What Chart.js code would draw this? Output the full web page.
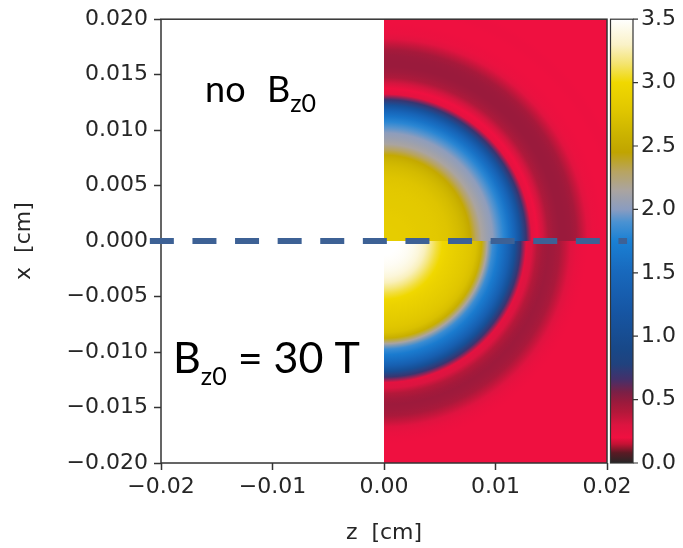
<!DOCTYPE html>
<html>
<head>
<meta charset="utf-8">
<title>Density map</title>
<script src="https://cdn.jsdelivr.net/npm/chart.js@4/dist/chart.umd.min.js"></script>
<style>
  html, body { margin: 0; padding: 0; background: #fff; }
  #densityMap { display: block; }
</style>
</head>
<body>
<canvas id="densityMap" width="683" height="548"></canvas>
<script>
// radial density profiles, one value per ring of width ringStep starting at r = 0
const ringStep = 0.0005;
const profileNoField = [
  2.86, 2.86, 2.86, 2.85, 2.85, 2.84, 2.83, 2.82,
  2.81, 2.80, 2.78, 2.76, 2.72, 2.67, 2.60, 2.50,
  2.30, 2.15, 2.08, 2.02, 1.92, 1.80, 1.62, 1.42,
  1.10, 0.70, 0.26, 0.20, 0.32, 0.42, 0.46, 0.48,
  0.48, 0.47, 0.44, 0.36, 0.27, 0.22, 0.21, 0.20,
  0.20, 0.20, 0.21, 0.21, 0.20, 0.20, 0.20, 0.20,
  0.20, 0.20, 0.20, 0.20, 0.20, 0.20, 0.20, 0.20, 0.20
];
const profileField = [
  3.50, 3.50, 3.50, 3.48, 3.46, 3.42, 3.36, 3.28,
  3.18, 3.08, 3.00, 2.94, 2.90, 2.86, 2.82, 2.78,
  2.72, 2.55, 2.15, 1.85, 1.70, 1.55, 1.35, 1.05,
  0.70, 0.26, 0.30, 0.40, 0.45, 0.47, 0.46, 0.43,
  0.36, 0.28, 0.23, 0.21, 0.20, 0.20, 0.20, 0.20,
  0.20, 0.20, 0.20, 0.20, 0.20, 0.20, 0.20, 0.20,
  0.20, 0.20, 0.20, 0.20, 0.20, 0.20, 0.20, 0.20, 0.20
];

const zTickValues = [-0.02, -0.01, 0, 0.01, 0.02];
const xTickValues = [-0.02, -0.015, -0.01, -0.005, 0, 0.005, 0.01, 0.015, 0.02];
const colourTickValues = [0, 0.5, 1, 1.5, 2, 2.5, 3, 3.5];

// dashed divider between the two cases, along x = 0
const dividerZ = [-0.021, 0.0218];
const dividerX = [0, 0];

// colour map stops: [value, colour]
const colourStops = [
  [0.00, '#262626'], [0.08, '#5a1a24'], [0.15, '#c41234'], [0.20, '#ef1040'],
  [0.30, '#dc1440'], [0.40, '#b4183a'], [0.48, '#9a1a3c'], [0.56, '#7a2046'],
  [0.66, '#44306a'], [0.78, '#20427e'], [0.90, '#184888'], [1.20, '#1656a4'],
  [1.50, '#1868bc'], [1.75, '#1a80d4'], [1.90, '#4a92d2'], [2.00, '#8a9cc0'],
  [2.15, '#aaa4a0'], [2.30, '#b8a460'], [2.45, '#c0a400'], [2.60, '#ccb400'],
  [2.80, '#e2c800'], [3.00, '#f0d800'], [3.15, '#f4e470'], [3.30, '#faf2c8'],
  [3.50, '#ffffff']
];

// in-plot labels: anchor in data units, then runs drawn one after another
const labelFont = 'Lato, "Open Sans", sans-serif';
const plotLabels = [
  { z: -0.01605, x: 0.01256, runs: [{ text: 'no', size: 36, shift: 0 }] },
  { z: -0.01049, x: 0.01256, runs: [{ text: 'B', size: 36, shift: 0 },
                                    { text: 'z0', size: 25, shift: 10 }] },
  { z: -0.01892, x: -0.01193, runs: [{ text: 'B', size: 43, shift: 0 },
                                     { text: 'z0', size: 25, shift: 12 },
                                     { text: ' = 30 T', size: 43, shift: 0 }] }
];

const tickFont = { family: 'DejaVu Sans', size: 22 };
const inkColour = '#262626';

function hexToRgb(h) {
  const n = parseInt(h.slice(1), 16);
  return [(n >> 16) & 255, (n >> 8) & 255, n & 255];
}

function colourAt(v) {
  if (v <= colourStops[0][0]) return colourStops[0][1];
  for (let i = 1; i < colourStops.length; i++) {
    const [v1, c1] = colourStops[i];
    if (v <= v1) {
      const [v0, c0] = colourStops[i - 1];
      const t = (v - v0) / (v1 - v0);
      const a = hexToRgb(c0), b = hexToRgb(c1);
      const m = a.map((ch, k) => Math.round(ch + (b[k] - ch) * t));
      return `rgb(${m[0]},${m[1]},${m[2]})`;
    }
  }
  return colourStops[colourStops.length - 1][1];
}

function fixedTicks(values) {
  return scale => { scale.ticks = values.map(v => ({ value: v })); };
}

function signed(v, digits) {
  if (Math.abs(v) < 1e-12) v = 0;
  return (v < 0 ? '\u2212' : '') + Math.abs(v).toFixed(digits);
}

const heatmapPlugin = {
  id: 'heatmap',
  beforeDatasetsDraw(chart) {
    const { ctx, chartArea: a, scales: { x, y, c } } = chart;
    const x0 = x.getPixelForValue(0);
    const yc = y.getPixelForValue(0);
    const ySplit = Math.round(yc);
    const xr = x.getPixelForValue(0.02);
    const halves = [
      { profile: profileNoField, top: y.getPixelForValue(0.02), bottom: ySplit },
      { profile: profileField, top: ySplit, bottom: y.getPixelForValue(-0.02) }
    ];
    halves.forEach(h => {
      const n = h.profile.length;
      const rMax = n * ringStep;
      const rx = x.getPixelForValue(rMax) - x0;
      const ry = yc - y.getPixelForValue(rMax);
      ctx.save();
      ctx.beginPath();
      ctx.rect(x0, h.top, xr - x0, h.bottom - h.top);
      ctx.clip();
      ctx.translate(x0, yc);
      ctx.scale(1, ry / rx);
      const g = ctx.createRadialGradient(0, 0, 0, 0, 0, rx);
      g.addColorStop(0, colourAt(h.profile[0]));
      h.profile.forEach((v, i) => g.addColorStop((i + 0.5) / n, colourAt(v)));
      g.addColorStop(1, colourAt(h.profile[n - 1]));
      ctx.fillStyle = g;
      ctx.fillRect(-rx, -rx, 2 * rx, 2 * rx);
      ctx.restore();
    });

    // axes frame
    ctx.save();
    ctx.strokeStyle = '#333';
    ctx.lineWidth = 1.5;
    ctx.strokeRect(a.left, a.top, a.width, a.height);

    // colour bar
    const cbLeft = a.right + 3.5, cbWidth = 22.5;
    const cbTop = c.getPixelForValue(3.5), cbBottom = c.getPixelForValue(0);
    const grad = ctx.createLinearGradient(0, cbBottom, 0, cbTop);
    colourStops.forEach(([v, col]) => grad.addColorStop(v / 3.5, col));
    ctx.fillStyle = grad;
    ctx.fillRect(cbLeft, cbTop, cbWidth, cbBottom - cbTop);
    ctx.lineWidth = 1.2;
    ctx.strokeRect(cbLeft, cbTop, cbWidth, cbBottom - cbTop);
    ctx.beginPath();
    c.ticks.forEach(t => {
      const py = c.getPixelForValue(t.value);
      ctx.moveTo(cbLeft + cbWidth, py);
      ctx.lineTo(cbLeft + cbWidth + 5, py);
    });
    ctx.stroke();
    ctx.restore();
  },
  afterDraw(chart) {
    const { ctx, scales: { x, y } } = chart;
    ctx.save();
    ctx.fillStyle = '#000';
    ctx.textBaseline = 'alphabetic';
    ctx.textAlign = 'left';
    plotLabels.forEach(label => {
      let px = x.getPixelForValue(label.z);
      const py = y.getPixelForValue(label.x);
      label.runs.forEach(run => {
        ctx.font = `${run.size}px ${labelFont}`;
        ctx.fillText(run.text, px, py + run.shift);
        px += ctx.measureText(run.text).width;
      });
    });
    ctx.restore();
  }
};

const axisGrid = {
  display: true,
  drawOnChartArea: false,
  drawTicks: true,
  tickLength: 7,
  tickWidth: 1.5,
  tickColor: '#333'
};

new Chart(document.getElementById('densityMap'), {
  type: 'scatter',
  data: {
    datasets: [{
      data: dividerZ.map((z, i) => ({ x: z, y: dividerX[i] })),
      showLine: true,
      borderColor: '#3d6195',
      borderWidth: 6,
      borderDash: [24, 18.6],
      borderCapStyle: 'butt',
      pointRadius: 0,
      clip: false
    }]
  },
  options: {
    responsive: false,
    animation: false,
    layout: { padding: { top: 18, left: 0, right: 0, bottom: 0 } },
    plugins: { legend: { display: false }, tooltip: { enabled: false } },
    scales: {
      x: {
        type: 'linear',
        position: 'bottom',
        min: -0.02,
        max: 0.02,
        afterBuildTicks: fixedTicks(zTickValues),
        afterFit: s => { s.height = 85; },
        grid: axisGrid,
        border: { display: false },
        ticks: { font: tickFont, color: inkColour, padding: 4, maxRotation: 0,
                 callback: v => signed(v, 2) },
        title: { display: true, text: 'z  [cm]', font: tickFont, color: inkColour,
                 padding: { top: 0, bottom: 2 } }
      },
      y: {
        type: 'linear',
        position: 'left',
        min: -0.02,
        max: 0.02,
        afterBuildTicks: fixedTicks(xTickValues),
        afterFit: s => { s.width = 161; },
        grid: axisGrid,
        border: { display: false },
        ticks: { font: tickFont, color: inkColour, padding: 6,
                 callback: v => signed(v, 3) },
        title: { display: true, text: 'x  [cm]', font: tickFont, color: inkColour,
                 padding: { top: 11, bottom: 0 } }
      },
      c: {
        type: 'linear',
        position: 'right',
        min: 0,
        max: 3.5,
        afterBuildTicks: fixedTicks(colourTickValues),
        afterFit: s => { s.width = 76; },
        // tick marks are drawn by the plugin beside the bar; these only push labels out
        grid: { display: true, drawOnChartArea: false, drawTicks: true, tickLength: 28,
                tickColor: 'rgba(0,0,0,0)' },
        border: { display: false },
        ticks: { font: tickFont, color: inkColour, padding: 6,
                 callback: v => v.toFixed(1) }
      }
    }
  },
  plugins: [heatmapPlugin]
});
</script>
</body>
</html>
